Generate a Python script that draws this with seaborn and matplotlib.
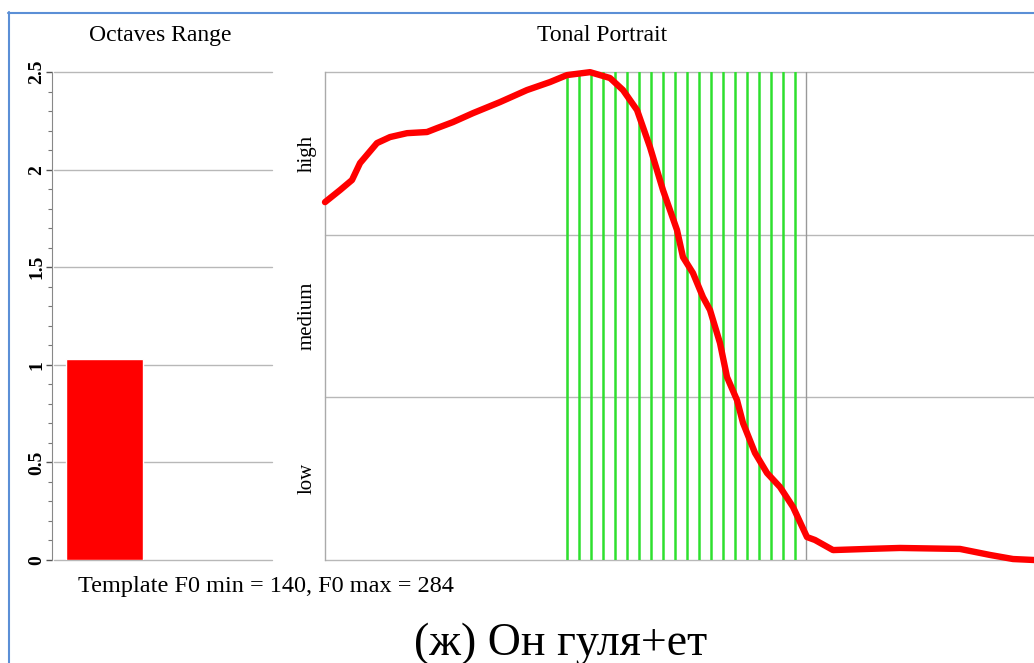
import matplotlib
matplotlib.use("Agg")
import matplotlib.pyplot as plt
import seaborn as sns
import pandas as pd
import numpy as np
from matplotlib.lines import Line2D

# ---------------- data ----------------
range_labels = ["range"]
range_values = [1.03]

octave_ticks = [0, 0.5, 1, 1.5, 2, 2.5]
octave_tick_labels = ["0", "0.5", "1", "1.5", "2", "2.5"]

band_labels = ["low", "medium", "high"]

tone_x = [0.0, 2.12, 3.81, 4.94, 7.33, 9.17, 11.57, 14.39, 15.80, 18.05, 20.87,
          24.68, 28.49, 31.73, 34.13, 37.38, 40.20, 42.03, 44.01, 45.84, 47.67,
          49.65, 50.49, 51.90, 53.31, 54.30, 55.71, 56.70, 58.11, 58.96, 60.65,
          62.34, 64.17, 66.01, 67.98, 69.11, 71.65, 76.45, 81.10, 89.56, 93.79,
          97.04, 100.0]
tone_y = [2.200, 2.274, 2.336, 2.440, 2.563, 2.600, 2.624, 2.631, 2.655, 2.692,
          2.747, 2.815, 2.889, 2.938, 2.981, 2.999, 2.963, 2.889, 2.766, 2.538,
          2.274, 2.028, 1.862, 1.764, 1.616, 1.537, 1.334, 1.125, 0.983, 0.842,
          0.658, 0.535, 0.449, 0.326, 0.141, 0.123, 0.061, 0.068, 0.074, 0.068,
          0.031, 0.006, 0.0]

stress_start = 34.1
stress_end = 67.8
stress_lines = [34.1, 35.8, 37.5, 39.2, 40.9, 42.6, 44.3, 46.0, 47.7, 49.4,
                51.1, 52.7, 54.4, 56.1, 57.8, 59.5, 61.2, 62.9, 64.6, 66.3]

title_left = "Octaves Range"
title_right = "Tonal Portrait"
template_text = "Template F0 min = 140, F0 max = 284"
caption = "(ж) Он гуля+ет"

# ---------------- style ----------------
sns.set_theme(style="white")
plt.rcParams["font.family"] = ["Liberation Serif", "DejaVu Serif"]
plt.rcParams["text.color"] = "black"
plt.rcParams["ytick.color"] = "black"
plt.rcParams["xtick.color"] = "black"

W, H = 1034, 663
fig = plt.figure(figsize=(W / 100, H / 100), dpi=100)
fig.patch.set_facecolor("white")

def fx(px):
    return px / W

def fy(py):
    return 1 - py / H

grid_c = "#b8b8b8"

# ---------------- left panel ----------------
axL = fig.add_axes([fx(52), fy(560), fx(272) - fx(52), fy(72) - fy(560)])
dfL = pd.DataFrame({"cat": range_labels, "val": range_values})
sns.barplot(data=dfL, x="cat", y="val", ax=axL, color="#ff0000",
            saturation=1, width=0.8, zorder=3)
axL.set_xlim(-0.545, 1.74)
axL.set_ylim(0, 2.5)
for v in octave_ticks:
    axL.axhline(v, xmin=0.01, color=grid_c, lw=1.0, zorder=1, clip_on=False)
axL.set_yticks(octave_ticks)
axL.set_yticklabels(octave_tick_labels, rotation=90, va="center",
                    fontsize=14, fontweight="bold")
axL.set_yticks(np.arange(0, 2.51, 0.1), minor=True)
axL.tick_params(axis="y", which="major", direction="out", length=4,
                width=1, color="#555555", pad=1, left=True)
axL.tick_params(axis="y", which="minor", direction="out", length=3,
                width=0.8, color="#777777", left=True)
axL.set_xticks([])
axL.set_xlabel("")
axL.set_ylabel("")
for s in ["top", "right", "bottom"]:
    axL.spines[s].set_visible(False)
axL.spines["left"].set_color("#888888")
axL.spines["left"].set_linewidth(0.8)

# ---------------- right panel ----------------
axR = fig.add_axes([fx(325), fy(560), 1 - fx(325), fy(72) - fy(560)])
axR.set_xlim(0, 100)
axR.set_ylim(0, 3)
for v in [0, 1, 2, 3]:
    axR.axhline(v, color=grid_c, lw=1.0, zorder=1, clip_on=False)
axR.axvline(stress_start, color="#999999", lw=1.0, zorder=1)
axR.axvline(stress_end, color="#999999", lw=1.0, zorder=1)
for xv in stress_lines:
    axR.axvline(xv, color="#2ee02e", lw=1.8, zorder=2)
dfR = pd.DataFrame({"t": tone_x, "tone": tone_y})
sns.lineplot(data=dfR, x="t", y="tone", ax=axR, color="#ff0000", lw=4.6,
             zorder=4, solid_capstyle="round", solid_joinstyle="round",
             clip_on=False)
axR.set_yticks([0.5, 1.5, 2.5])
axR.set_yticklabels(band_labels, rotation=90, va="center", fontsize=15)
axR.tick_params(axis="y", length=0, pad=6)
axR.set_xticks([])
axR.set_xlabel("")
axR.set_ylabel("")
for s in ["top", "right", "bottom"]:
    axR.spines[s].set_visible(False)
axR.spines["left"].set_color("#aaaaaa")
axR.spines["left"].set_linewidth(1.0)

# ---------------- texts ----------------
fig.text(fx(160), fy(41), title_left, ha="center", va="baseline", fontsize=17)
fig.text(fx(602), fy(41), title_right, ha="center", va="baseline", fontsize=17)
fig.text(fx(78), fy(592), template_text, ha="left", va="baseline", fontsize=17.5)
fig.text(fx(561), fy(655), caption, ha="center", va="baseline", fontsize=33)

# ---------------- frame border ----------------
border_c = "#5b8fd6"
fig.add_artist(Line2D([fx(8), 1], [fy(12.5), fy(12.5)], color=border_c, lw=1.5))
fig.add_artist(Line2D([fx(8.5), fx(8.5)], [fy(12), 0], color=border_c, lw=1.5))

fig.savefig("out.png", dpi=100)
